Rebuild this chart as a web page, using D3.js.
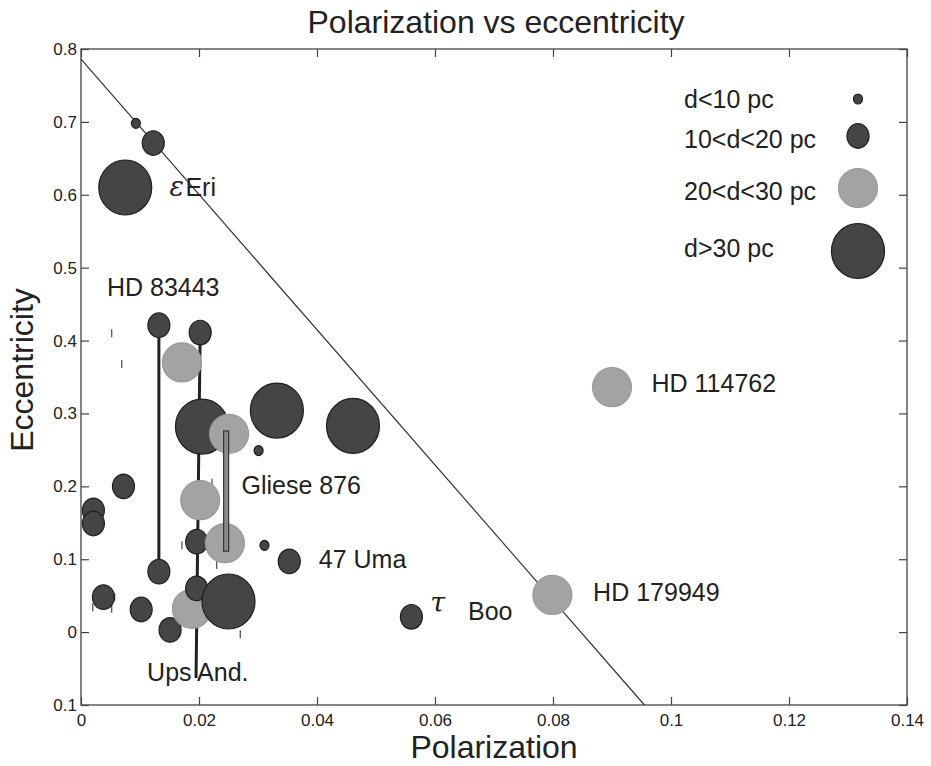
<!DOCTYPE html>
<html>
<head>
  <title>Polarization vs eccentricity</title>
  <script src="https://cdn.jsdelivr.net/npm/d3@7"></script>
  <style>
    body { margin: 0; background: #fff; font-family: "Liberation Sans", Arial, Helvetica, sans-serif; }
    .axis text { font-size: 17px; fill: #222; font-family: "Liberation Sans", Arial, sans-serif; }
    .axis line { stroke: #444; stroke-width: 1.2; }
    .axis path { display: none; }
    .lab { font-size: 25px; fill: #222; }
  </style>
</head>
<body>
  <div id="chart"></div>
  <script>
    // planet positions: polarization, eccentricity, distance class (0: <10, 1: 10-20, 2: 20-30, 3: >30 pc)
    const polar = [0.0093, 0.01225, 0.0075, 0.0132, 0.0202, 0.0171, 0.0205, 0.0251, 0.0332, 0.0461,
                   0.0301, 0.0072, 0.0021, 0.0021, 0.0202, 0.0196, 0.0244, 0.0311, 0.0353, 0.0132,
                   0.0038, 0.0102, 0.0151, 0.0188, 0.0196, 0.0250, 0.0560, 0.0799, 0.0900];
    const ecc = [0.698, 0.671, 0.610, 0.421, 0.411, 0.370, 0.282, 0.272, 0.304, 0.283,
                 0.249, 0.200, 0.167, 0.149, 0.181, 0.124, 0.122, 0.119, 0.097, 0.083,
                 0.048, 0.031, 0.003, 0.032, 0.060, 0.042, 0.021, 0.051, 0.336];
    const distClass = [0, 1, 3, 1, 1, 2, 3, 2, 3, 3,
                       0, 1, 1, 1, 2, 1, 2, 0, 1, 1,
                       1, 1, 1, 2, 1, 3, 1, 2, 2];

    // multi-planet systems joined by vertical lines
    const sysName = ["HD 83443", "Ups And."];
    const sysX0 = [0.0132, 0.0202];
    const sysX1 = [0.0132, 0.0195];
    const sysTop = [0.421, 0.411];
    const sysBottom = [0.083, -0.063];
    // Gliese 876 bar
    const gliX = 0.0246, gliTop = 0.276, gliBottom = 0.111;

    // small stray error marks
    const markX = [0.0052, 0.0069, 0.0171, 0.0230, 0.0020, 0.0052, 0.0057, 0.0270, 0.0222];
    const markY = [0.410, 0.368, 0.119, 0.092, 0.034, 0.032, 0.048, -0.003, 0.205];

    // limit line
    const limitX = [0, 0.0955];
    const limitY = [0.786, -0.1];

    // annotations
    const noteText = ["Eri", "HD 83443", "HD 114762", "Gliese 876", "47 Uma", "Boo", "HD 179949", "Ups And."];
    const noteX = [0.0177, 0.0044, 0.0967, 0.0272, 0.0403, 0.0656, 0.0868, 0.0112];
    const noteY = [0.599, 0.461, 0.330, 0.189, 0.088, 0.0165, 0.043, -0.067];
    const greekText = ["\u03b5", "\u03c4"];
    const greekX = [0.0150, 0.0592];
    const greekY = [0.599, 0.0274];

    const legendLabels = ["d<10 pc", "10<d<20 pc", "20<d<30 pc", "d>30 pc"];

    const xTicks = [0, 0.02, 0.04, 0.06, 0.08, 0.1, 0.12, 0.14];
    const xTickLabels = ["0", "0.02", "0.04", "0.06", "0.08", "0.1", "0.12", "0.14"];
    const yTicks = [-0.1, 0, 0.1, 0.2, 0.3, 0.4, 0.5, 0.6, 0.7, 0.8];
    const yTickLabels = ["0.1", "0", "0.1", "0.2", "0.3", "0.4", "0.5", "0.6", "0.7", "0.8"];

    const width = 931, height = 766;
    const margin = { top: 49, right: 24, bottom: 61, left: 81 };

    const svg = d3.select("#chart").append("svg")
      .attr("width", width)
      .attr("height", height);

    const x = d3.scaleLinear().domain([0, 0.14]).range([margin.left, width - margin.right]);
    const y = d3.scaleLinear().domain([-0.1, 0.8]).range([height - margin.bottom, margin.top]);

    const rx = d3.scaleOrdinal().domain([0, 1, 2, 3]).range([4.5, 11, 19.5, 26.5]);
    const ry = d3.scaleOrdinal().domain([0, 1, 2, 3]).range([5, 12.3, 19.5, 27.5]);
    const fill = d3.scaleOrdinal().domain([0, 1, 2, 3]).range(["#454545", "#454545", "#a3a3a3", "#454545"]);
    const edge = d3.scaleOrdinal().domain([0, 1, 2, 3]).range(["#1e1e1e", "#1e1e1e", "#9a9a9a", "#1e1e1e"]);

    // axes, ticks inward on all sides
    svg.append("g").attr("class", "axis")
      .attr("transform", `translate(0,${y(-0.1)})`)
      .call(d3.axisBottom(x).tickValues(xTicks).tickFormat((d, i) => xTickLabels[i])
        .tickSizeInner(-8).tickSizeOuter(0).tickPadding(9));
    svg.append("g").attr("class", "axis")
      .attr("transform", `translate(0,${y(0.8)})`)
      .call(d3.axisTop(x).tickValues(xTicks).tickFormat("").tickSizeInner(-8).tickSizeOuter(0));
    svg.append("g").attr("class", "axis")
      .attr("transform", `translate(${x(0)},0)`)
      .call(d3.axisLeft(y).tickValues(yTicks).tickFormat((d, i) => yTickLabels[i])
        .tickSizeInner(-8).tickSizeOuter(0).tickPadding(4));
    svg.append("g").attr("class", "axis")
      .attr("transform", `translate(${x(0.14)},0)`)
      .call(d3.axisRight(y).tickValues(yTicks).tickFormat("").tickSizeInner(-8).tickSizeOuter(0));

    svg.append("rect")
      .attr("x", x(0)).attr("y", y(0.8))
      .attr("width", x(0.14) - x(0)).attr("height", y(-0.1) - y(0.8))
      .attr("fill", "none").attr("stroke", "#444").attr("stroke-width", 1.3);

    // limit line
    svg.append("line")
      .attr("x1", x(limitX[0])).attr("y1", y(limitY[0]))
      .attr("x2", x(limitX[1])).attr("y2", y(limitY[1]))
      .attr("stroke", "#333").attr("stroke-width", 1.2);

    // system connectors
    svg.append("g").selectAll("line")
      .data(sysName)
      .join("line")
      .attr("x1", (d, i) => x(sysX0[i])).attr("y1", (d, i) => y(sysTop[i]))
      .attr("x2", (d, i) => x(sysX1[i])).attr("y2", (d, i) => y(sysBottom[i]))
      .attr("stroke", "#222").attr("stroke-width", 3);

    svg.append("g").selectAll("line")
      .data(markX)
      .join("line")
      .attr("x1", d => x(d)).attr("x2", d => x(d))
      .attr("y1", (d, i) => y(markY[i]) - 4).attr("y2", (d, i) => y(markY[i]) + 4)
      .attr("stroke", "#555").attr("stroke-width", 1.3);

    // planets
    svg.append("g").selectAll("ellipse")
      .data(polar)
      .join("ellipse")
      .attr("cx", d => x(d))
      .attr("cy", (d, i) => y(ecc[i]))
      .attr("rx", (d, i) => rx(distClass[i]))
      .attr("ry", (d, i) => ry(distClass[i]))
      .attr("fill", (d, i) => fill(distClass[i]))
      .attr("stroke", (d, i) => edge(distClass[i]))
      .attr("stroke-width", 1.2);

    // Gliese 876 bar
    svg.append("rect")
      .attr("x", x(gliX) - 2.5).attr("y", y(gliTop))
      .attr("width", 5).attr("height", y(gliBottom) - y(gliTop))
      .attr("fill", "#8a8a8a").attr("stroke", "#333").attr("stroke-width", 1.2);

    // annotations
    svg.append("g").selectAll("text")
      .data(noteText)
      .join("text")
      .attr("class", "lab")
      .attr("x", (d, i) => x(noteX[i]))
      .attr("y", (d, i) => y(noteY[i]))
      .text(d => d);

    svg.append("g").selectAll("text")
      .data(greekText)
      .join("text")
      .attr("class", "lab")
      .attr("x", (d, i) => x(greekX[i]))
      .attr("y", (d, i) => y(greekY[i]))
      .style("font-family", "'DejaVu Serif', 'Liberation Serif', serif")
      .style("font-style", "italic")
      .style("font-size", "27px")
      .text(d => d);

    // legend
    const legY = [108, 148, 200, 257];
    const legMarkY = [99, 136, 188, 251];
    const legend = svg.append("g");
    legend.selectAll("text")
      .data(legendLabels)
      .join("text")
      .attr("class", "lab")
      .attr("x", 684)
      .attr("y", (d, i) => legY[i])
      .text(d => d);
    legend.selectAll("ellipse")
      .data(legendLabels)
      .join("ellipse")
      .attr("cx", 858)
      .attr("cy", (d, i) => legMarkY[i])
      .attr("rx", (d, i) => rx(i))
      .attr("ry", (d, i) => ry(i))
      .attr("fill", (d, i) => fill(i))
      .attr("stroke", (d, i) => edge(i))
      .attr("stroke-width", 1.2);

    // titles
    svg.append("text")
      .attr("x", (x(0) + x(0.14)) / 2 + 2)
      .attr("y", 33)
      .attr("text-anchor", "middle")
      .style("font-size", "32px")
      .attr("fill", "#222")
      .text("Polarization vs eccentricity");

    svg.append("text")
      .attr("x", (x(0) + x(0.14)) / 2)
      .attr("y", 758)
      .attr("text-anchor", "middle")
      .style("font-size", "32px")
      .attr("fill", "#222")
      .text("Polarization");

    svg.append("text")
      .attr("transform", `translate(33,370) rotate(-90)`)
      .attr("text-anchor", "middle")
      .style("font-size", "32px")
      .attr("fill", "#222")
      .text("Eccentricity");
  </script>
</body>
</html>
